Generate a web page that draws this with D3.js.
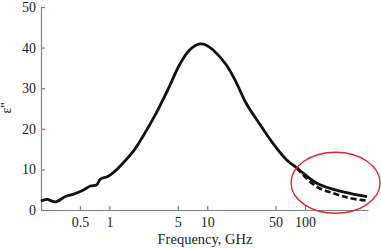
<!DOCTYPE html>
<html>
<head>
    <meta charset="UTF-8">
    <title>eps2 vs frequency</title>
    <style type="text/css">
        body { margin: 0; background: #fff; }
        .axis path, .axis line { stroke: #808080; stroke-width: 1.2px; }
        .axis text { font-family: "Liberation Serif", "DejaVu Serif", serif; font-size: 14px; fill: #222; }
        .curve { fill: none; stroke: #111; stroke-width: 2.8px; stroke-linejoin: round; }
        .curve.dashed { stroke-dasharray: 6 3; stroke-width: 2.6px; }
        .label { font-family: "Liberation Serif", "DejaVu Serif", serif; fill: #222; }
    </style>
</head>
<body>
<script src="https://cdn.jsdelivr.net/npm/d3@7"></script>
<script type="text/javascript">
    // frequency (GHz) and eps''
    var freq = [0.2, 0.23, 0.28, 0.36, 0.43, 0.53, 0.64, 0.74, 0.81, 0.95, 1.12, 1.42, 1.8, 2.2,
                3.0, 4.1, 5.2, 6.6, 8.4, 9.8, 11.5, 15.7, 20, 25, 35, 47, 65, 83];
    var eps = [2.2, 2.6, 2.0, 3.4, 3.9, 4.8, 5.9, 6.2, 7.6, 8.2, 9.4, 11.9, 14.8, 18.1,
               23.8, 30.4, 35.7, 39.4, 40.9, 40.6, 39.4, 35.7, 31.2, 26.3, 20.9, 16.4, 12.3, 10.3];
    // high-frequency tail, where the two curves split
    var tailFreq = [83, 90, 132, 195, 288, 430];
    var tailSolid = [10.3, 9.6, 6.6, 5.1, 4.1, 3.3];
    var tailDashed = [10.3, 9.3, 5.7, 4.1, 2.9, 2.3];

    var xTicks = [0.5, 1, 5, 10, 50, 100];
    var yTicks = [0, 10, 20, 30, 40, 50];

    var width = 381,
        height = 248;

    var x = d3.scaleLog()
            .domain([0.2, 440])
            .range([41, 368]),
        y = d3.scaleLinear()
            .domain([0, 50])
            .range([210, 7]);

    var svg = d3.select("body").append("svg")
        .attr("width", width)
        .attr("height", height);

    var xAxis = d3.axisBottom(x)
        .tickValues(xTicks)
        .tickFormat(function(d){ return d; })
        .tickSizeInner(-4)
        .tickSizeOuter(0)
        .tickPadding(7);

    var yAxis = d3.axisLeft(y)
        .tickValues(yTicks)
        .tickSizeInner(-4)
        .tickSizeOuter(0)
        .tickPadding(5);

    svg.append("g")
        .attr("class", "axis")
        .attr("transform", "translate(0," + y(0) + ")")
        .call(xAxis);

    svg.append("g")
        .attr("class", "axis")
        .attr("transform", "translate(" + x(0.2) + ",0)")
        .call(yAxis);

    svg.selectAll(".axis text").attr("font-family", null);

    var line = d3.line()
        .x(function(d){ return x(d[0]); })
        .y(function(d){ return y(d[1]); })
        .curve(d3.curveCatmullRom);

    var solid = d3.zip(freq, eps).concat(d3.zip(tailFreq, tailSolid).slice(1));
    var dashed = d3.zip(tailFreq, tailDashed);

    svg.append("path")
        .attr("class", "curve")
        .attr("d", line(solid));

    svg.append("path")
        .attr("class", "curve dashed")
        .attr("d", line(dashed));

    // red ellipse marking the tail
    svg.append("ellipse")
        .attr("cx", x(205))
        .attr("cy", y(6.7))
        .attr("rx", 44.5)
        .attr("ry", 30.5)
        .attr("fill", "none")
        .attr("stroke", "#e3262d")
        .attr("stroke-width", 1.4);

    svg.append("text")
        .attr("class", "label")
        .attr("x", 205)
        .attr("y", 244)
        .attr("text-anchor", "middle")
        .style("font-size", "14.5px")
        .text("Frequency, GHz");

    svg.append("text")
        .attr("class", "label")
        .attr("transform", "translate(11,108) rotate(-90)")
        .attr("text-anchor", "middle")
        .style("font-size", "14px")
        .text("ε''");
</script>
</body>
</html>
